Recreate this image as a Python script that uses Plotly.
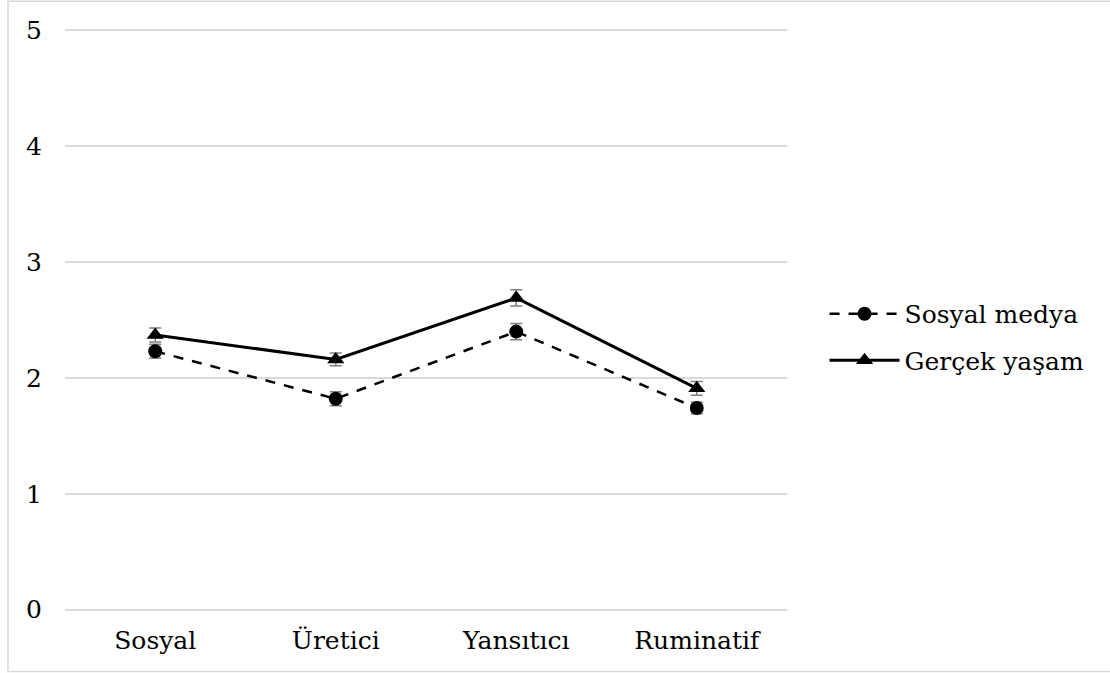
import plotly.graph_objects as go

categories = ["Sosyal", "Üretici", "Yansıtıcı", "Ruminatif"]
sosyal_medya = [2.23, 1.82, 2.40, 1.74]
sosyal_medya_err = [0.06, 0.06, 0.07, 0.05]
gercek_yasam = [2.37, 2.16, 2.69, 1.91]
gercek_yasam_err = [0.06, 0.055, 0.07, 0.06]
y_ticks = [0, 1, 2, 3, 4, 5]

FONT = "DejaVu Serif"
FS = 25

fig = go.Figure()
fig.add_trace(go.Scatter(
    x=categories, y=sosyal_medya, name="Sosyal medya", mode="lines+markers",
    legendgroup="a",
    line=dict(color="black", width=2.5, dash="10px,9px"),
    marker=dict(symbol="circle", size=14, color="black"),
    error_y=dict(type="data", array=sosyal_medya_err, color="#7f7f7f", thickness=1.5, width=6),
))
fig.add_trace(go.Scatter(
    x=categories, y=gercek_yasam, name="Gerçek yaşam", mode="lines+markers",
    legendgroup="b",
    line=dict(color="black", width=3),
    marker=dict(symbol="triangle-up", size=15, color="black"),
    error_y=dict(type="data", array=gercek_yasam_err, color="#7f7f7f", thickness=1.5, width=6),
))

pad = 0.02
fig.update_layout(
    width=1110, height=673,
    margin=dict(l=65, r=323, t=30 - 116 * pad, b=63 - 116 * pad),
    paper_bgcolor="white", plot_bgcolor="white",
    font=dict(family=FONT, size=FS, color="black"),
    showlegend=True,
    legend=dict(x=1.052, y=0.471, xanchor="left", yanchor="middle",
                font=dict(family=FONT, size=FS, color="black"),
                itemwidth=70,
                tracegroupgap=11, bgcolor="rgba(0,0,0,0)"),
    xaxis=dict(range=[-0.5, 3.5], showgrid=False, showline=False, ticks="", zeroline=False,
               ticklabelstandoff=11, tickfont=dict(family=FONT, size=FS)),
    yaxis=dict(range=[-pad, 5 + pad], tickvals=y_ticks, showgrid=True, gridcolor="#d9d9d9",
               gridwidth=1.5, zeroline=False, showline=False, ticks="",
               ticklabelstandoff=22, tickfont=dict(family=FONT, size=FS)),
    shapes=[dict(type="rect", xref="paper", yref="paper",
                 x0=-57/722, x1=1 + 330/722, y0=-(62 - 116 * pad)/(580 + 232 * pad),
                 y1=1 + (29 - 116 * pad)/(580 + 232 * pad),
                 line=dict(color="#d9d9d9", width=1.5))],
)

fig.write_html("out.html", config={"displayModeBar": False},
               post_script="document.body.style.margin='0';document.body.style.overflow='hidden';")
